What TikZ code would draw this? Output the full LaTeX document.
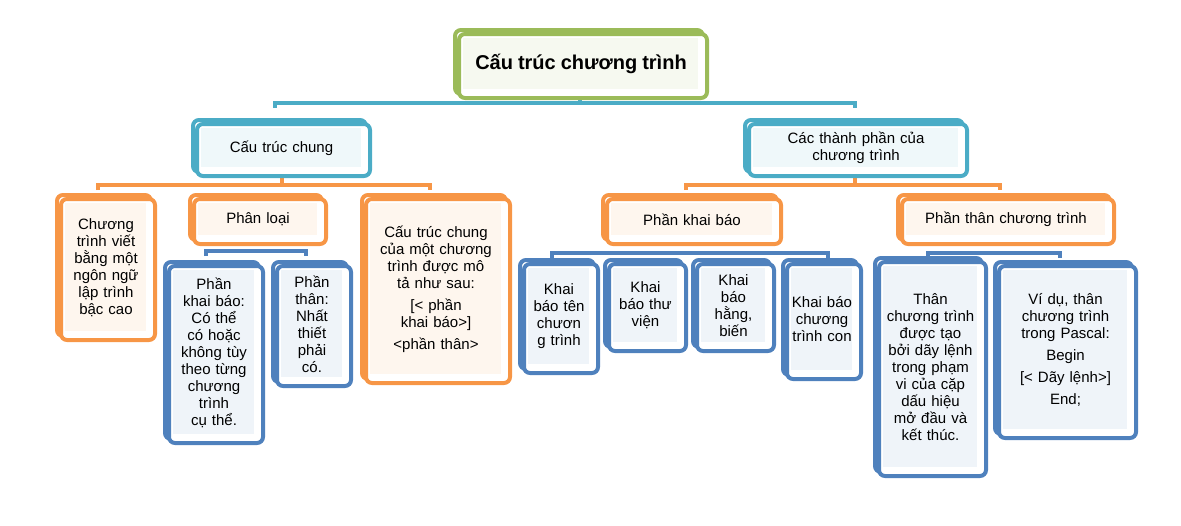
\documentclass[tikz,border=0pt]{standalone}
\usepackage{fontspec}
\setmainfont{Liberation Sans}
\definecolor{cg}{HTML}{9BBB59}
\definecolor{ct}{HTML}{4BACC6}
\definecolor{co}{HTML}{F79646}
\definecolor{cb}{HTML}{4F81BD}
\newcommand\bx[8]{%
  \draw[#6,line width=4pt,rounded corners=6pt] (#2,#3) rectangle (#4-4,#5-4);
  \draw[#6,line width=4pt,rounded corners=6pt,fill=white] (#2+4,#3+4) rectangle (#4,#5);
  \fill[#6!9] (#2+8,#3+8) rectangle (#4-9,#5-9);
  \node[text width=#8,align=center,inner sep=0pt] (#1) at ({(#2+#4)/2},{(#3+#5)/2}) {#7};}
\tikzset{bar/.style={line width=4pt}}
\begin{document}
\begin{tikzpicture}[x=1pt,y=-1pt,font=\fontsize{15}{17}\selectfont]
\useasboundingbox (0,0) rectangle (1181,525);
% connectors
\draw[bar,ct] (580,97) -- (580,103); \draw[bar,ct] (275,108) -- (275,103) -- (855,103) -- (855,108);
\draw[bar,co] (98,190) -- (98,185) -- (430,185) -- (430,190); \draw[bar,co] (282,175) -- (282,185);
\draw[bar,co] (686,190) -- (686,185) -- (1000,185) -- (1000,190); \draw[bar,co] (855,175) -- (855,185);
\draw[bar,cb] (206,256) -- (206,251) -- (306,251) -- (306,256);
\draw[bar,cb] (552,258) -- (552,253) -- (828,253) -- (828,258);
\draw[bar,cb] (928,258) -- (928,253) -- (1060,253) -- (1060,258);
% boxes
\bx{root}{455}{30}{707}{98}{cg}{\fontsize{20}{24}\selectfont\bfseries Cấu trúc chương trình}{240pt}
\bx{ctc}{193}{120}{370}{176}{ct}{Cấu trúc chung}{160pt}
\bx{ctp}{745}{120}{967}{176}{ct}{Các thành phần của\\chương trình}{200pt}
\bx{cv}{57}{195}{155}{340}{co}{Chương trình viết bằng một ngôn ngữ lập trình bậc cao}{72pt}
\bx{pl}{190}{195}{326}{244}{co}{Phân loại}{120pt}
\bx{ctm}{362}{195}{510}{383}{co}{Cấu trúc chung của một chương trình được mô tả như sau:\\[5pt][< phần khai báo>]\\[5pt]<phần thân>}{115pt}
\bx{pkb}{603}{195}{781}{244}{co}{Phần khai báo}{160pt}
\bx{ptc}{898}{195}{1114}{244}{co}{Phần thân chương trình}{200pt}
\bx{pk}{165}{262}{263}{443}{cb}{Phần khai báo: Có thể có hoặc không tùy theo từng chương trình cụ thể.}{72pt}
\bx{pt}{273}{262}{351}{386}{cb}{Phần thân: Nhất thiết phải có.}{50pt}
\bx{k1}{520}{260}{598}{373}{cb}{Khai báo tên chươn g trình}{56pt}
\bx{k2}{605}{260}{686}{351}{cb}{Khai báo thư viện}{56pt}
\bx{k3}{693}{260}{774}{351}{cb}{Khai báo hằng, biến}{56pt}
\bx{k4}{783}{260}{861}{379}{cb}{Khai báo chương trình con}{62pt}
\bx{tc}{875}{258}{986}{476}{cb}{Thân chương trình được tạo bởi dãy lệnh trong phạm vi của cặp dấu hiệu mở đầu và kết thúc.}{88pt}
\bx{vd}{995}{262}{1136}{438}{cb}{Ví dụ, thân chương trình trong Pascal:\\[5pt]Begin\\[5pt][< Dãy lệnh>]\\[5pt]End;}{112pt}
\end{tikzpicture}
\end{document}
